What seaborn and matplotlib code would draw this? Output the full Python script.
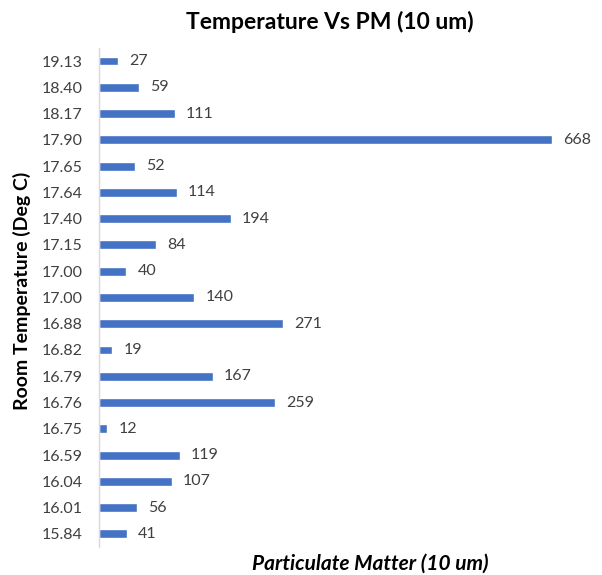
import matplotlib
matplotlib.use("Agg")
import matplotlib.pyplot as plt
import seaborn as sns
import pandas as pd

# Room temperature readings (top to bottom) and PM10 counts
temperatures = ["19.13", "18.40", "18.17", "17.90", "17.65", "17.64", "17.40",
                "17.15", "17.00", "17.00", "16.88", "16.82", "16.79", "16.76",
                "16.75", "16.59", "16.04", "16.01", "15.84"]
pm_values = [27, 59, 111, 668, 52, 114, 194, 84, 40, 140, 271, 19, 167, 259,
             12, 119, 107, 56, 41]

df = pd.DataFrame({
    "row": [f"r{i:02d}" for i in range(len(temperatures))],
    "pm": pm_values,
})

sns.set_theme(style="white")
plt.rcParams["font.family"] = ["Lato", "DejaVu Sans"]

fig = plt.figure(figsize=(6.02, 5.75), dpi=100)
ax = fig.add_axes([0.165, 0.0487, 0.788, 0.868])

sns.barplot(data=df, x="pm", y="row", orient="h", color="#4472C4",
            saturation=1, width=0.34, ax=ax)

ax.set_xlim(0, 700)
ax.set_ylim(len(temperatures) - 0.5, -0.5)
ax.set_yticks(range(len(temperatures)))
ax.set_yticklabels(temperatures, fontsize=11.5, color="#404040")
ax.set_xticks([])
ax.tick_params(axis="y", length=0, pad=12)

for c in ax.containers:
    ax.bar_label(c, labels=[str(v) for v in pm_values], padding=8,
                 fontsize=11.5, color="#404040")

for side in ["top", "right", "bottom"]:
    ax.spines[side].set_visible(False)
ax.spines["left"].set_color("#D9D9D9")
ax.spines["left"].set_linewidth(1.0)

ax.set_xlabel("")
ax.set_ylabel("")
fig.text(0.548, 0.962, "Temperature Vs PM (10 um)", ha="center", va="center",
         fontsize=16.5, fontweight="bold", color="black")
fig.text(0.615, 0.019, "Particulate Matter (10 um)", ha="center", va="center",
         fontsize=15, fontweight="bold", fontstyle="italic", color="black")
fig.text(0.037, 0.494, "Room Temperature (Deg C)", ha="center", va="center",
         rotation=90, fontsize=14, fontweight="bold", color="black")

fig.savefig("out.png", dpi=100)
